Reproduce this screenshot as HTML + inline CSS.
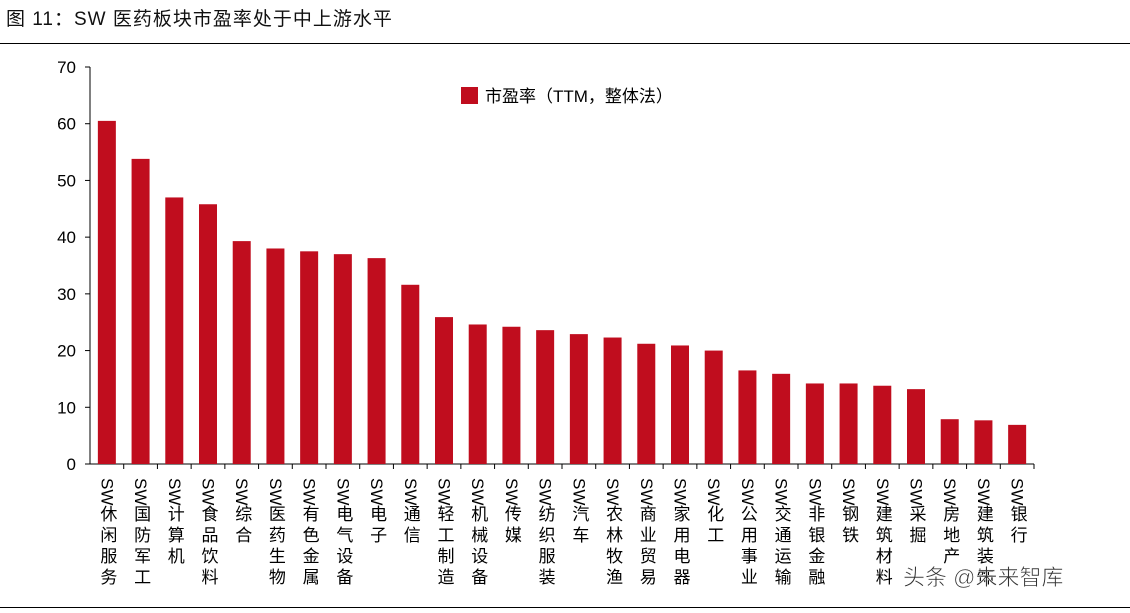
<!DOCTYPE html>
<html><head><meta charset="utf-8">
<style>
body{margin:0;background:#fff;width:1130px;height:613px;overflow:hidden;font-family:"Liberation Sans","Noto Sans CJK SC",sans-serif;}
#title{position:absolute;left:6px;top:4px;font-size:19px;color:#111;letter-spacing:1px;}
.hr{position:absolute;left:0;width:1130px;height:1px;background:#000;}
</style></head><body>
<div id="title">图 11：SW 医药板块市盈率处于中上游水平</div>
<div class="hr" style="top:43px"></div>
<div class="hr" style="top:607px"></div>
<svg id="chart" width="1130" height="613" style="position:absolute;left:0;top:0"></svg>
<script>
const categories=["SW休闲服务","SW国防军工","SW计算机","SW食品饮料","SW综合","SW医药生物","SW有色金属","SW电气设备","SW电子","SW通信","SW轻工制造","SW机械设备","SW传媒","SW纺织服装","SW汽车","SW农林牧渔","SW商业贸易","SW家用电器","SW化工","SW公用事业","SW交通运输","SW非银金融","SW钢铁","SW建筑材料","SW采掘","SW房地产","SW建筑装饰","SW银行"];
const values=[60.5,53.8,47,45.8,39.3,38,37.5,37,36.3,31.6,25.9,24.6,24.2,23.6,22.9,22.3,21.2,20.9,20,16.5,15.9,14.2,14.2,13.8,13.2,7.9,7.7,6.9];
const yTicks=[0,10,20,30,40,50,60,70];
const NS="http://www.w3.org/2000/svg";
const svg=document.getElementById('chart');
const x0=90,x1=1034,y0=464,yTop=67,yMax=70;
const y=v=>y0-(v/yMax)*(y0-yTop);
const step=(x1-x0)/categories.length;
const xc=i=>x0+step*(i+0.5);
function mk(t,a,p){const e=document.createElementNS(NS,t);for(const k in a)e.setAttribute(k,a[k]);(p||svg).appendChild(e);return e;}
let ax=mk('line',{x1:x0,y1:yTop,x2:x0,y2:y0,stroke:'#000','stroke-width':1});


let bx=mk('line',{x1:x0,y1:y0,x2:x1,y2:y0,stroke:'#000','stroke-width':1});


yTicks.forEach(t=>{
  let tk=mk('line',{x1:x0-5,y1:y(t),x2:x0,y2:y(t),stroke:'#000'});
  
  
  let tl=mk('text',{x:x0-14,y:y(t)+6,'text-anchor':'end','font-size':17,fill:'#000'});
  tl.textContent=t;
  
  
});
categories.forEach((c,i)=>{
  let tk=mk('line',{x1:x0+step*(i+1),y1:y0,x2:x0+step*(i+1),y2:y0+5,stroke:'#000'});
  
  
  let b=mk('rect',{x:xc(i)-9,y:y(values[i]),width:18,height:y0-y(values[i]),fill:'#c00d1e'});
  
  
  let t=mk('text',{x:xc(i),y:478,'font-size':17,fill:'#000'});
  t.style.writingMode='vertical-rl';
  t.style.textOrientation='mixed';
  
  
  let s1=mk('tspan',{},t);
  s1.textContent=c.slice(0,2);
  let s2=mk('tspan',{'letter-spacing':'4px'},t);
  s2.textContent=c.slice(2);
});
let lg=mk('rect',{x:461,y:87,width:17,height:17,fill:'#c00d1e'});


let lt=mk('text',{x:485,y:102,'font-size':17,fill:'#000'});
lt.textContent='市盈率（TTM，整体法）';


let wm=mk('text',{x:903,y:585,'font-size':22,fill:'#333',stroke:'#fff','stroke-width':0.6});
wm.textContent='头条 @未来智库';


</script>
</body></html>
